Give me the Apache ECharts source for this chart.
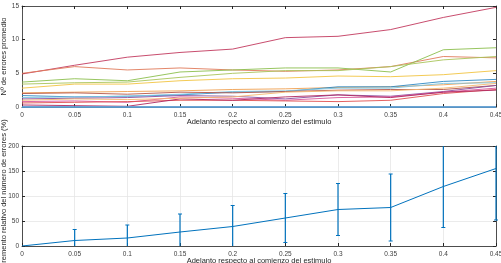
<!DOCTYPE html>
<html><head><meta charset="utf-8">
<script src="https://cdn.jsdelivr.net/npm/echarts@6/dist/echarts.min.js"></script>
<style>html,body{margin:0;padding:0;background:#fff}#c{width:501px;height:263px}</style>
</head><body><div id="c"></div>
<script>
const xVals = [0, 0.05, 0.1, 0.15, 0.2, 0.25, 0.3, 0.35, 0.4, 0.45];
const topSeries = [
  [4.9, 6.2, 7.4, 8.1, 8.6, 10.3, 10.5, 11.5, 13.3, 14.8],
  [5.0, 6.0, 5.5, 5.8, 5.5, 5.3, 5.5, 6.0, 7.5, 7.3],
  [3.7, 4.2, 3.9, 5.2, 5.5, 5.8, 5.8, 5.2, 8.5, 8.8],
  [3.4, 3.6, 3.7, 4.4, 5.0, 5.4, 5.4, 6.0, 7.0, 7.5],
  [2.8, 3.4, 3.4, 3.9, 4.2, 4.3, 4.6, 4.5, 4.8, 5.4],
  [2.1, 2.2, 2.3, 2.4, 2.6, 2.7, 2.9, 3.0, 3.3, 3.8],
  [1.7, 1.5, 1.6, 1.8, 2.2, 2.3, 3.0, 3.0, 3.8, 4.1],
  [1.4, 1.5, 1.6, 1.9, 2.3, 2.4, 2.8, 2.8, 3.5, 3.6],
  [2.0, 2.1, 1.9, 2.2, 2.1, 2.3, 2.5, 2.6, 2.6, 3.2],
  [1.2, 1.3, 1.4, 1.7, 1.6, 1.2, 1.8, 1.6, 2.3, 3.2],
  [0.8, 0.9, 0.7, 1.5, 1.3, 1.0, 1.4, 1.5, 2.2, 2.8],
  [0.6, 0.7, 0.8, 1.0, 1.0, 0.9, 0.8, 1.0, 2.0, 2.6],
  [0.3, 0.2, 0.1, 1.2, 1.0, 1.5, 1.8, 1.4, 2.2, 2.5],
  [1.0, 1.2, 1.1, 1.3, 1.5, 2.2, 2.4, 2.4, 2.8, 3.5],
  [0, 0, 0, 0, 0, 0, 0, 0, 0, 0]
];
const topColors = ['#c23a5e','#e07a5a','#8cbf4e','#a9c45a','#f2c443','#f0a050','#2f8ac4','#7cc4e0','#b5584a','#8a4fa0','#d9559a','#e05050','#b02860','#f5b870','#5b9bd0'];
const incr = [0, 11, 16, 28, 39, 56, 73, 77, 119, 155];
const err = [0, 22, 26, 36, 42, 49, 52, 67, 82, 103];
const xTitle = 'Adelanto respecto al comienzo del estimulo';
const yTitleTop = 'Nº de errores promedio';
const yTitleBot = 'Incremento relativo del número de errores (%)';

const font = 'Helvetica, Arial, "Liberation Sans", sans-serif';
const axCol = '#262626';
const fmt = v => String(+v.toFixed(2));
function xAxes(gi, grid) {
  return [{
    type: 'value', gridIndex: gi, min: 0, max: 0.45, interval: 0.05,
    name: xTitle, nameLocation: 'middle', nameGap: 11, nameMoveOverlap: false,
    nameTextStyle: {fontSize: 7.5, color: axCol, fontFamily: font},
    axisLine: {show: true, onZero: false, lineStyle: {color: axCol, width: 0.8}},
    axisTick: {inside: true, length: 3, lineStyle: {color: axCol}},
    axisLabel: {fontSize: 6.5, color: '#404040', margin: 5, fontFamily: font, formatter: fmt, showMaxLabel: true},
    splitLine: {show: grid, lineStyle: {color: '#e6e6e6', width: 0.8}}
  }, {
    type: 'value', gridIndex: gi, position: 'top', min: 0, max: 0.45, interval: 0.05,
    axisLine: {show: true, onZero: false, lineStyle: {color: axCol, width: 0.8}},
    axisTick: {show: true, inside: true, length: 3, lineStyle: {color: axCol}},
    axisLabel: {show: false}, splitLine: {show: false}
  }];
}
function yAxes(gi, max, interval, name, grid) {
  return [{
    type: 'value', gridIndex: gi, min: 0, max: max, interval: interval,
    name: name, nameLocation: 'middle', nameGap: 14, nameMoveOverlap: false,
    nameTextStyle: {fontSize: 7.5, color: axCol, fontFamily: font},
    axisLine: {show: true, onZero: false, lineStyle: {color: axCol, width: 0.8}},
    axisTick: {show: true, inside: true, length: 3, lineStyle: {color: axCol}},
    axisLabel: {fontSize: 6.5, color: '#404040', margin: 3, fontFamily: font},
    splitLine: {show: grid, lineStyle: {color: '#e6e6e6', width: 0.8}}
  }, {
    type: 'value', gridIndex: gi, position: 'right', min: 0, max: max, interval: interval,
    axisLine: {show: true, onZero: false, lineStyle: {color: axCol, width: 0.8}},
    axisTick: {show: true, inside: true, length: 3, lineStyle: {color: axCol}},
    axisLabel: {show: false}, splitLine: {show: false}
  }];
}
const series = topSeries.map((arr, i) => ({
  type: 'line', xAxisIndex: 0, yAxisIndex: 0, symbol: 'none', silent: true,
  data: arr.map((v, j) => [xVals[j], v]),
  lineStyle: {width: i === 14 ? 2 : 1, color: topColors[i], opacity: 0.9},
  z: 3
}));
series.push({
  type: 'line', xAxisIndex: 2, yAxisIndex: 2, symbol: 'none',
  data: incr.map((v, j) => [xVals[j], v]),
  lineStyle: {width: 1, color: '#0072BD'}, z: 4
});
series.push({
  type: 'custom', xAxisIndex: 2, yAxisIndex: 2, z: 5,
  data: incr.map((v, j) => [xVals[j], v - err[j], v + err[j]]),
  renderItem: function (params, api) {
    const x = api.value(0);
    let lo = api.value(1), hi = api.value(2);
    if (hi - lo <= 0) return {type: 'group', children: []};
    const children = [];
    const loC = Math.max(lo, 0), hiC = Math.min(hi, 200);
    const p1 = api.coord([x, loC]), p2 = api.coord([x, hiC]);
    children.push({type: 'line', shape: {x1: p1[0], y1: p1[1], x2: p2[0], y2: p2[1]}, style: {stroke: '#0072BD', lineWidth: 1.2}});
    const w = 2;
    if (hi <= 200) children.push({type: 'line', shape: {x1: p2[0]-w, y1: p2[1], x2: p2[0]+w, y2: p2[1]}, style: {stroke: '#0072BD', lineWidth: 1}});
    if (lo >= 0) children.push({type: 'line', shape: {x1: p1[0]-w, y1: p1[1], x2: p1[0]+w, y2: p1[1]}, style: {stroke: '#0072BD', lineWidth: 1}});
    return {type: 'group', children: children};
  }
});
const option = {
  animation: false,
  grid: [
    {left: 22, right: 5, top: 6, bottom: 156, containLabel: false, outerBoundsMode: 'none'},
    {left: 22, right: 5, top: 146, bottom: 17, containLabel: false, outerBoundsMode: 'none'}
  ],
  xAxis: [...xAxes(0, false), ...xAxes(1, true)],
  yAxis: [...yAxes(0, 15, 5, yTitleTop, false), ...yAxes(1, 200, 50, yTitleBot, true)],
  series: series
};
const chart = echarts.init(document.getElementById('c'), null, {renderer: 'canvas'});
chart.setOption(option);
</script></body></html>
